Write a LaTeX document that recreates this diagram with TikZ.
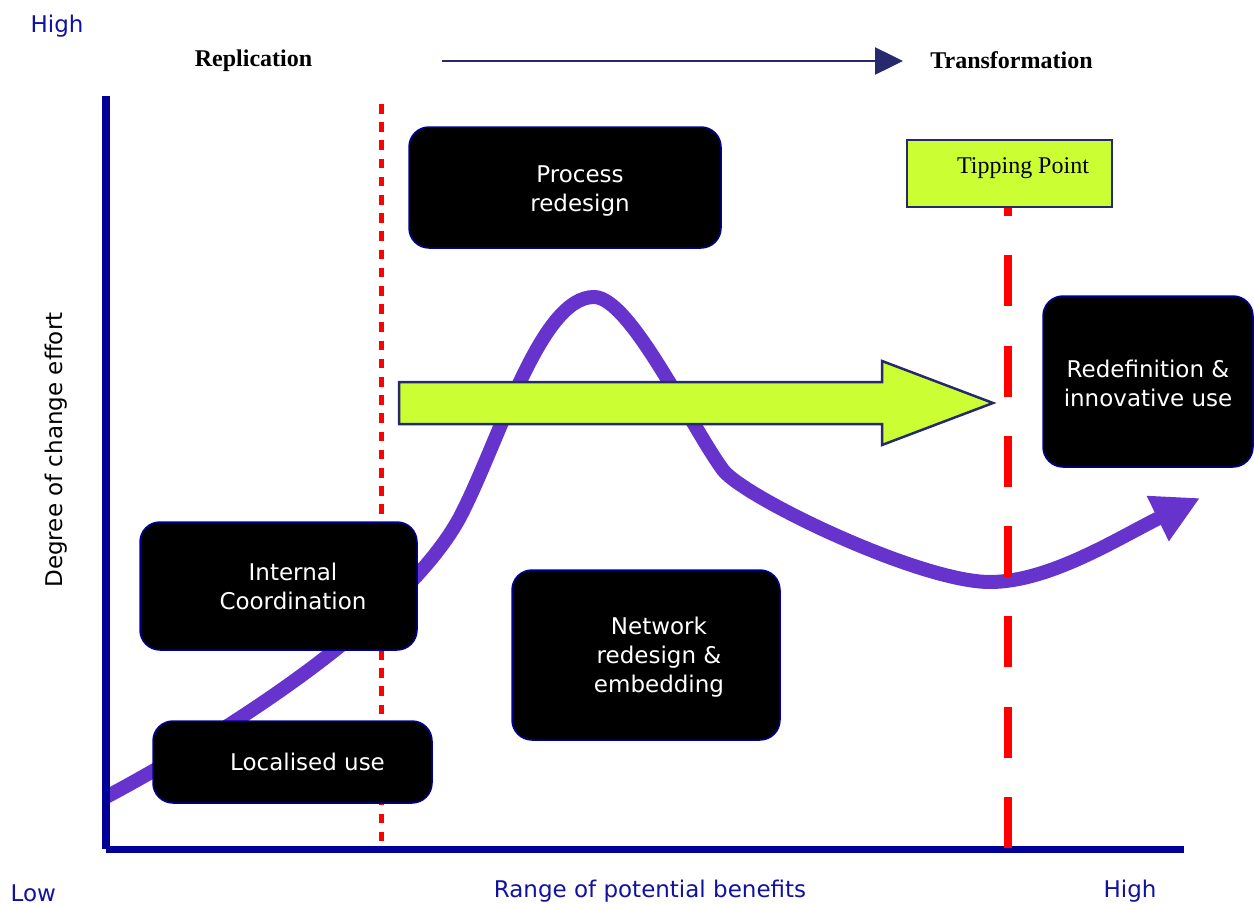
\documentclass[tikz,border=0pt]{standalone}
\usepackage{fontspec}
\usepackage{tikz}
\usetikzlibrary{arrows.meta,positioning,calc}
\newfontfamily\verdfont{DejaVu Sans}
\newfontfamily\timesfont{Liberation Serif}
\definecolor{axisblue}{HTML}{000099}
\definecolor{labelblue}{HTML}{1212A0}
\definecolor{navy}{HTML}{26296B}
\definecolor{lime}{HTML}{CCFF33}
\definecolor{curvepurple}{HTML}{6633CC}
\definecolor{tipred}{HTML}{FF0000}
\tikzset{
  stagebox/.style={draw=axisblue,fill=black,line width=1.5pt,
                   rounded corners=20pt,inner sep=0pt},
  stagetext/.style={text=white,align=center,inner sep=0pt,
                    font=\verdfont\fontsize{23}{29}\selectfont},
  axislabel/.style={text=labelblue,inner sep=0pt,anchor=base,
                    font=\verdfont\fontsize{23}{28}\selectfont},
  phaselabel/.style={inner sep=0pt,anchor=base,
                     font=\timesfont\bfseries\fontsize{24}{28}\selectfont},
  tipbox/.style={draw=navy,fill=lime,line width=2.5pt,inner sep=0pt},
  toparrow/.style={-{Triangle[length=28pt,width=27pt]},line width=2.5pt,color=navy},
  effortcurve/.style={-{Triangle[length=47pt,width=47pt]},line width=14pt,color=curvepurple}
}

\begin{document}
\begin{tikzpicture}[x=1pt,y=-1pt]
  \useasboundingbox (0,0) rectangle (1254,905);
  % axes
  \coordinate (origin) at (106,849);
  \coordinate (ytop) at (106,96);
  \coordinate (xend) at (1184,849);
  \coordinate (curvestart) at (106,797);
  \coordinate (peak) at (594,297);
  \coordinate (valley) at (990,582);
  \coordinate (curveend) at (1200,498);
  \draw[effortcurve] (curvestart) .. controls (250,720) and (410,610) .. (460,517)
    .. controls (500,440) and (540,297) .. (peak)
    .. controls (630,297) and (690,425) .. (723,470)
    .. controls (745,498) and (920,582) .. (valley)
    .. controls (1050,582) and (1120,537) .. (curveend);
  \draw[axisblue,line width=8pt] (ytop) -- (origin);
  \draw[axisblue,line width=7pt] (origin) -- (xend);
  \draw[tipred,line width=5pt,dash pattern=on 9.5pt off 8.7pt] (381,104) -- (381,841);

  % stages
  \node[stagebox,minimum width=312pt,minimum height=121pt] (process) at (565,187.5) {};
  \node[stagebox,minimum width=277pt,minimum height=128pt] (internal) at (278.5,586) {};
  \node[stagebox,minimum width=279pt,minimum height=82pt] (localised) at (292.5,762) {};
  \node[stagebox,minimum width=268pt,minimum height=170pt] (network) at (646,655) {};
  \node[stagebox,minimum width=210pt,minimum height=171pt] (redefinition) at (1148,381.5) {};
  \node[stagetext] at ([xshift=15pt,yshift=-3.5pt]process.center) {Process\\redesign};
  \node[stagetext] at ([xshift=14.5pt]internal.center) {Internal\\Coordination};
  \node[stagetext] at ([xshift=15pt]localised.center) {Localised use};
  \node[stagetext] at ([xshift=13pt,yshift=-2pt]network.center) {Network\\redesign \&\\embedding};
  \node[stagetext] at ([yshift=-1.5pt]redefinition.center) {Redefinition \&\\innovative use};

  % big arrow
  \draw[draw=navy,fill=lime,line width=2.5pt] (399,382) -- (882,382) -- (882,361)
    -- (993,403) -- (882,445) -- (882,424) -- (399,424) -- cycle;

  % tipping point
  \node[tipbox,minimum width=205pt,minimum height=67pt] (tippoint) at (1009.5,173.5) {};
  \coordinate (tipbase) at (1008,848);
  \draw[tipred,line width=8pt,dash pattern=on 51pt off 39.3pt] (tipbase) -- (tipbase |- tippoint.south);
  \node[inner sep=0pt,anchor=base,font=\timesfont\fontsize{24}{28}\selectfont] (tiptext) at (1023,173) {Tipping Point};

  % labels
  \node[phaselabel] (replication) at (253.5,66.7) {Replication};
  \node[phaselabel] (transformation) at (1011.5,68.3) {Transformation};
  \coordinate (flowstart) at (442,61);
  \coordinate (flowend) at (903,61);
  \draw[toparrow] (flowstart) -- (flowend);
  \node[axislabel] (yhigh) at (57,32) {High};
  \node[axislabel] (ylow) at (33.3,901) {Low};
  \node[axislabel] (xhigh) at (1130,897) {High};
  \node[axislabel] (xtitle) at (650,897) {Range of potential benefits};
  \node[inner sep=0pt,anchor=base,rotate=90,font=\verdfont\fontsize{23}{28}\selectfont] (ytitle) at (62.5,450) {Degree of change effort};
\end{tikzpicture}
\end{document}
